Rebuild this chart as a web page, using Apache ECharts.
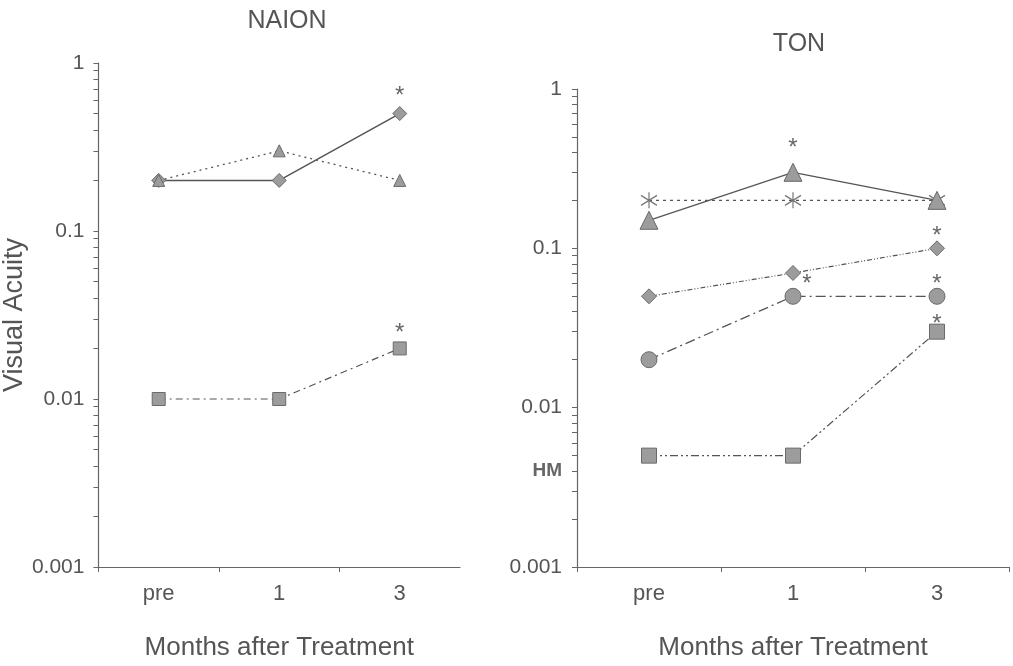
<!DOCTYPE html>
<html>
<head>
<meta charset="utf-8">
<script src="https://cdn.jsdelivr.net/npm/echarts@6/dist/echarts.min.js"></script>
<style>
  html, body { margin: 0; padding: 0; background: #fff; }
  #main { width: 1013px; height: 666px; }
</style>
</head>
<body>
<div id="main"></div>
<script>
// categories
const months = ['pre', '1', '3'];

// NAION series (visual acuity)
const naionDiamond = [0.2, 0.2, 0.5];
const naionTriangle = [0.2, 0.3, 0.2];
const naionSquare = [0.01, 0.01, 0.02];
// significance flags (1 = asterisk)
const naionDiamondSig = [0, 0, 1];
const naionSquareSig = [0, 0, 1];

// TON series
const tonTriangle = [0.15, 0.3, 0.2];
const tonStar = [0.2, 0.2, 0.2];
const tonDiamond = [0.05, 0.07, 0.1];
const tonCircle = [0.02, 0.05, 0.05];
const tonSquare = [0.005, 0.005, 0.03];
const tonTriangleSig = [0, 1, 0];
const tonDiamondSig = [0, 0, 1];
const tonCircleSig = [0, 1, 1];
const tonSquareSig = [0, 0, 1];

// y axis ticks
const yLabelValues = [0.001, 0.01, 0.1, 1];
const yLabelValuesTon = [0.001, 0.004, 0.01, 0.1, 1];
const yTickValues = [
  0.001, 0.002, 0.003, 0.004, 0.005, 0.006, 0.007, 0.008, 0.009,
  0.01, 0.02, 0.03, 0.04, 0.05, 0.06, 0.07, 0.08, 0.09,
  0.1, 0.2, 0.3, 0.4, 0.5, 0.6, 0.7, 0.8, 0.9, 1
];

const chart = echarts.init(document.getElementById('main'));

const textColor = '#555';
const markerFill = '#9c9c9c';
const markerBorder = '#6a6a6a';
const lineColor = '#555';
const font = 'Liberation Sans, Arial, sans-serif';

const starPath = 'path://M8,0L8,16M1,3L15,13M15,3L1,13';

// offsets: one default, or a function of the point index
function withSig(values, sig, offsetFn) {
  return values.map((v, i) => {
    if (!sig || !sig[i]) return v;
    return {
      value: v,
      label: {
        show: true,
        formatter: '*',
        position: 'top',
        offset: offsetFn(i),
        fontSize: 24,
        color: '#666',
        fontFamily: font
      }
    };
  });
}

function line(name, idx, data, symbol, size, dash, width) {
  return {
    name: name,
    type: 'line',
    xAxisIndex: idx,
    yAxisIndex: idx,
    data: data,
    symbol: symbol,
    symbolSize: size,
    showAllSymbol: true,
    lineStyle: { color: lineColor, width: width || 1.3, type: dash },
    itemStyle: { color: markerFill, borderColor: markerBorder, borderWidth: 1 },
    label: { show: false },
    z: 3
  };
}

function xAxis(idx) {
  return {
    type: 'category',
    gridIndex: idx,
    data: months,
    boundaryGap: true,
    name: 'Months after Treatment',
    nameLocation: 'middle',
    nameGap: 68,
    nameTextStyle: { fontSize: 26, color: textColor, fontFamily: font },
    axisLine: { lineStyle: { color: '#666', width: 1.2 } },
    axisTick: { show: true, length: 5, lineStyle: { color: '#666' } },
    axisLabel: { fontSize: 22, color: textColor, margin: 16, fontFamily: font },
    splitLine: { show: false }
  };
}

function yAxis(idx, labels, margin, extra) {
  return Object.assign({
    type: 'log',
    logBase: 10,
    gridIndex: idx,
    min: 0.001,
    max: 1,
    axisLine: { show: true, lineStyle: { color: '#666', width: 1.2 } },
    axisTick: { show: true, length: 5, customValues: yTickValues, lineStyle: { color: '#666' } },
    axisLabel: {
      customValues: labels,
      fontSize: 21,
      color: textColor,
      fontFamily: font,
      margin: margin,
      formatter: function (v) {
        if (Math.abs(v - 0.004) < 1e-6) return '{hm|HM}';
        if (v >= 1) return '1';
        return String(+v.toFixed(3));
      },
      rich: { hm: { fontSize: 19, fontWeight: 'bold', color: '#666', fontFamily: font } }
    },
    splitLine: { show: false }
  }, extra || {});
}

const option = {
  backgroundColor: '#fff',
  animation: false,
  title: [
    { text: 'NAION', left: 282, top: 4, textAlign: 'center',
      textStyle: { fontSize: 25, fontWeight: 'normal', color: textColor, fontFamily: font } },
    { text: 'TON', left: 794, top: 27, textAlign: 'center',
      textStyle: { fontSize: 25, fontWeight: 'normal', color: textColor, fontFamily: font } }
  ],
  grid: [
    { left: 97, right: 553, top: 63, bottom: 98 },
    { left: 577, right: 4, top: 89, bottom: 98 }
  ],
  xAxis: [xAxis(0), xAxis(1)],
  yAxis: [
    yAxis(0, yLabelValues, 14, {
      name: 'Visual Acuity',
      nameLocation: 'middle',
      nameGap: 59,
      nameTextStyle: { fontSize: 27, color: textColor, fontFamily: font }
    }),
    yAxis(1, yLabelValuesTon, 15)
  ],
  series: [
    line('NAION diamond', 0, withSig(naionDiamond, naionDiamondSig, () => [0, 7]), 'diamond', 14, 'solid', 1.5),
    line('NAION triangle', 0, naionTriangle, 'triangle', 12, [2, 4], 1.3),
    line('NAION square', 0, withSig(naionSquare, naionSquareSig, () => [0, 9]), 'rect', 13, [7, 4, 2, 4], 1.2),

    line('TON star', 1, tonStar, starPath, 16, [3, 4], 1.2),
    line('TON triangle', 1, withSig(tonTriangle, tonTriangleSig, () => [0, 3]), 'triangle', 18, 'solid', 1.3),
    line('TON diamond', 1, withSig(tonDiamond, tonDiamondSig, () => [0, 13]), 'diamond', 15, [5, 2, 1, 2, 1, 2], 1.2),
    line('TON circle', 1, withSig(tonCircle, tonCircleSig, i => (i === 1 ? [14, 14] : [0, 14])), 'circle', 16, [10, 4, 2, 4], 1.3),
    line('TON square', 1, withSig(tonSquare, tonSquareSig, () => [0, 18]), 'rect', 15, [8, 3, 2, 3, 2, 3], 1.2)
  ]
};

// star markers drawn as outlines only
option.series[3].itemStyle = { color: 'rgba(0,0,0,0)', borderColor: '#777', borderWidth: 1.2 };

chart.setOption(option);
</script>
</body>
</html>
